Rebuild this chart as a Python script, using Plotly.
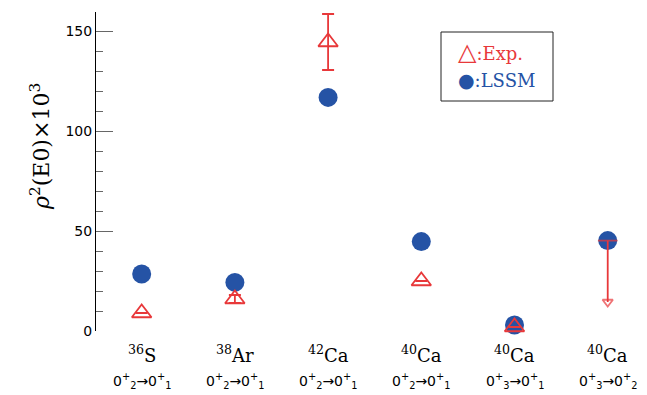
import plotly.graph_objects as go

nuclei = ["<sup>36</sup>S", "<sup>38</sup>Ar", "<sup>42</sup>Ca", "<sup>40</sup>Ca", "<sup>40</sup>Ca", "<sup>40</sup>Ca"]
transitions = [
    "0<sup>+</sup><sub>2</sub>→0<sup>+</sup><sub>1</sub>",
    "0<sup>+</sup><sub>2</sub>→0<sup>+</sup><sub>1</sub>",
    "0<sup>+</sup><sub>2</sub>→0<sup>+</sup><sub>1</sub>",
    "0<sup>+</sup><sub>2</sub>→0<sup>+</sup><sub>1</sub>",
    "0<sup>+</sup><sub>3</sub>→0<sup>+</sup><sub>1</sub>",
    "0<sup>+</sup><sub>3</sub>→0<sup>+</sup><sub>2</sub>",
]
x_idx = [0, 1, 2, 3, 4, 5]
lssm = [28.5, 24.3, 116.8, 44.7, 3.0, 45.2]
exp_vals = [9.0, 16.0, 144.5, 25.0, 2.0, None]
exp_err = [0, 2.0, 14.0, 0, 0, 0]
limit_x = 5
limit_top = 45.2
limit_tip = 14.5

RED = "#e8383a"
BLUE = "#2553a5"

fig = go.Figure()

fig.add_trace(go.Scatter(
    x=x_idx, y=lssm, mode="markers", cliponaxis=False,
    marker=dict(symbol="circle", size=19, color=BLUE, line=dict(width=0)),
    showlegend=False,
))

fig.add_trace(go.Scatter(
    x=x_idx, y=exp_vals, mode="markers", cliponaxis=False,
    marker=dict(symbol="triangle-up-open", size=17, color=RED, line=dict(width=1.8, color=RED)),
    error_y=dict(type="data", array=exp_err, visible=True, color=RED, thickness=1.8, width=6),
    showlegend=False,
))

# upper limit arrow
fig.add_trace(go.Scatter(
    x=[limit_x, limit_x], y=[limit_top, limit_tip], mode="lines+markers", cliponaxis=False,
    line=dict(color=RED, width=1.8),
    marker=dict(symbol=["line-ew", "triangle-down-open"], size=[14, 9], color=RED,
                line=dict(width=1.8, color=RED)),
    showlegend=False,
))

OFF = 8  # page body margin
W, H = 647 - OFF, 395 - OFF
L, R, T, B = 96 - OFF, 2, 12 - OFF, 64
pw = W - L - R
ph = H - T - B

def px_x(p):
    return (p - OFF - L) / pw

def px_y(p):
    return (H - B - (p - OFF)) / ph

annotations = []
for i in range(len(x_idx)):
    annotations.append(dict(
        x=x_idx[i], y=px_y(354), xref="x", yref="paper", text=nuclei[i], showarrow=False,
        xanchor="center", yanchor="middle",
        font=dict(family="DejaVu Serif", size=18, color="black")))
    annotations.append(dict(
        x=x_idx[i], y=px_y(381), xref="x", yref="paper", text=transitions[i], showarrow=False,
        xanchor="center", yanchor="middle",
        font=dict(family="DejaVu Sans", size=14, color="black")))

annotations.append(dict(
    x=px_x(40), y=px_y(146), xref="paper", yref="paper",
    text="<i>ρ</i><sup>2</sup>(E0)×10<sup>3</sup>", showarrow=False, textangle=-90,
    xanchor="center", yanchor="middle",
    font=dict(family="DejaVu Serif", size=22, color="black")))

annotations.append(dict(
    x=px_x(456), y=px_y(52), xref="paper", yref="paper",
    text="<span style='font-size:24px'>△</span>:Exp.", showarrow=False,
    xanchor="left", yanchor="middle",
    font=dict(family="DejaVu Serif", size=18, color=RED)))
annotations.append(dict(
    x=px_x(456), y=px_y(80), xref="paper", yref="paper",
    text="<span style='font-size:19px'>●</span>:LSSM", showarrow=False,
    xanchor="left", yanchor="middle",
    font=dict(family="DejaVu Serif", size=18, color=BLUE)))

shapes = [dict(type="rect", xref="paper", yref="paper",
               x0=px_x(441), x1=px_x(553), y0=px_y(101), y1=px_y(32),
               line=dict(color="#222", width=1), fillcolor="rgba(0,0,0,0)")]

fig.update_layout(
    width=W, height=H,
    margin=dict(l=L, r=R, t=T, b=B, autoexpand=False),
    paper_bgcolor="white", plot_bgcolor="white",
    annotations=annotations, shapes=shapes,
    xaxis=dict(range=[-0.49, 5.4], showline=False, showgrid=False, zeroline=False,
               showticklabels=False, ticks=""),
    yaxis=dict(range=[0, 159.5], showline=True, linecolor="black", linewidth=1,
               showgrid=False, zeroline=False,
               tickmode="array", tickvals=[0, 50, 100, 150],
               ticks="inside", ticklen=17, tickcolor="#666", tickwidth=1,
               minor=dict(dtick=10, ticks="inside", ticklen=7, tickcolor="#666", tickwidth=1, showgrid=False),
               tickfont=dict(family="DejaVu Sans", size=14, color="black")),
)

fig.write_html("out.html")
